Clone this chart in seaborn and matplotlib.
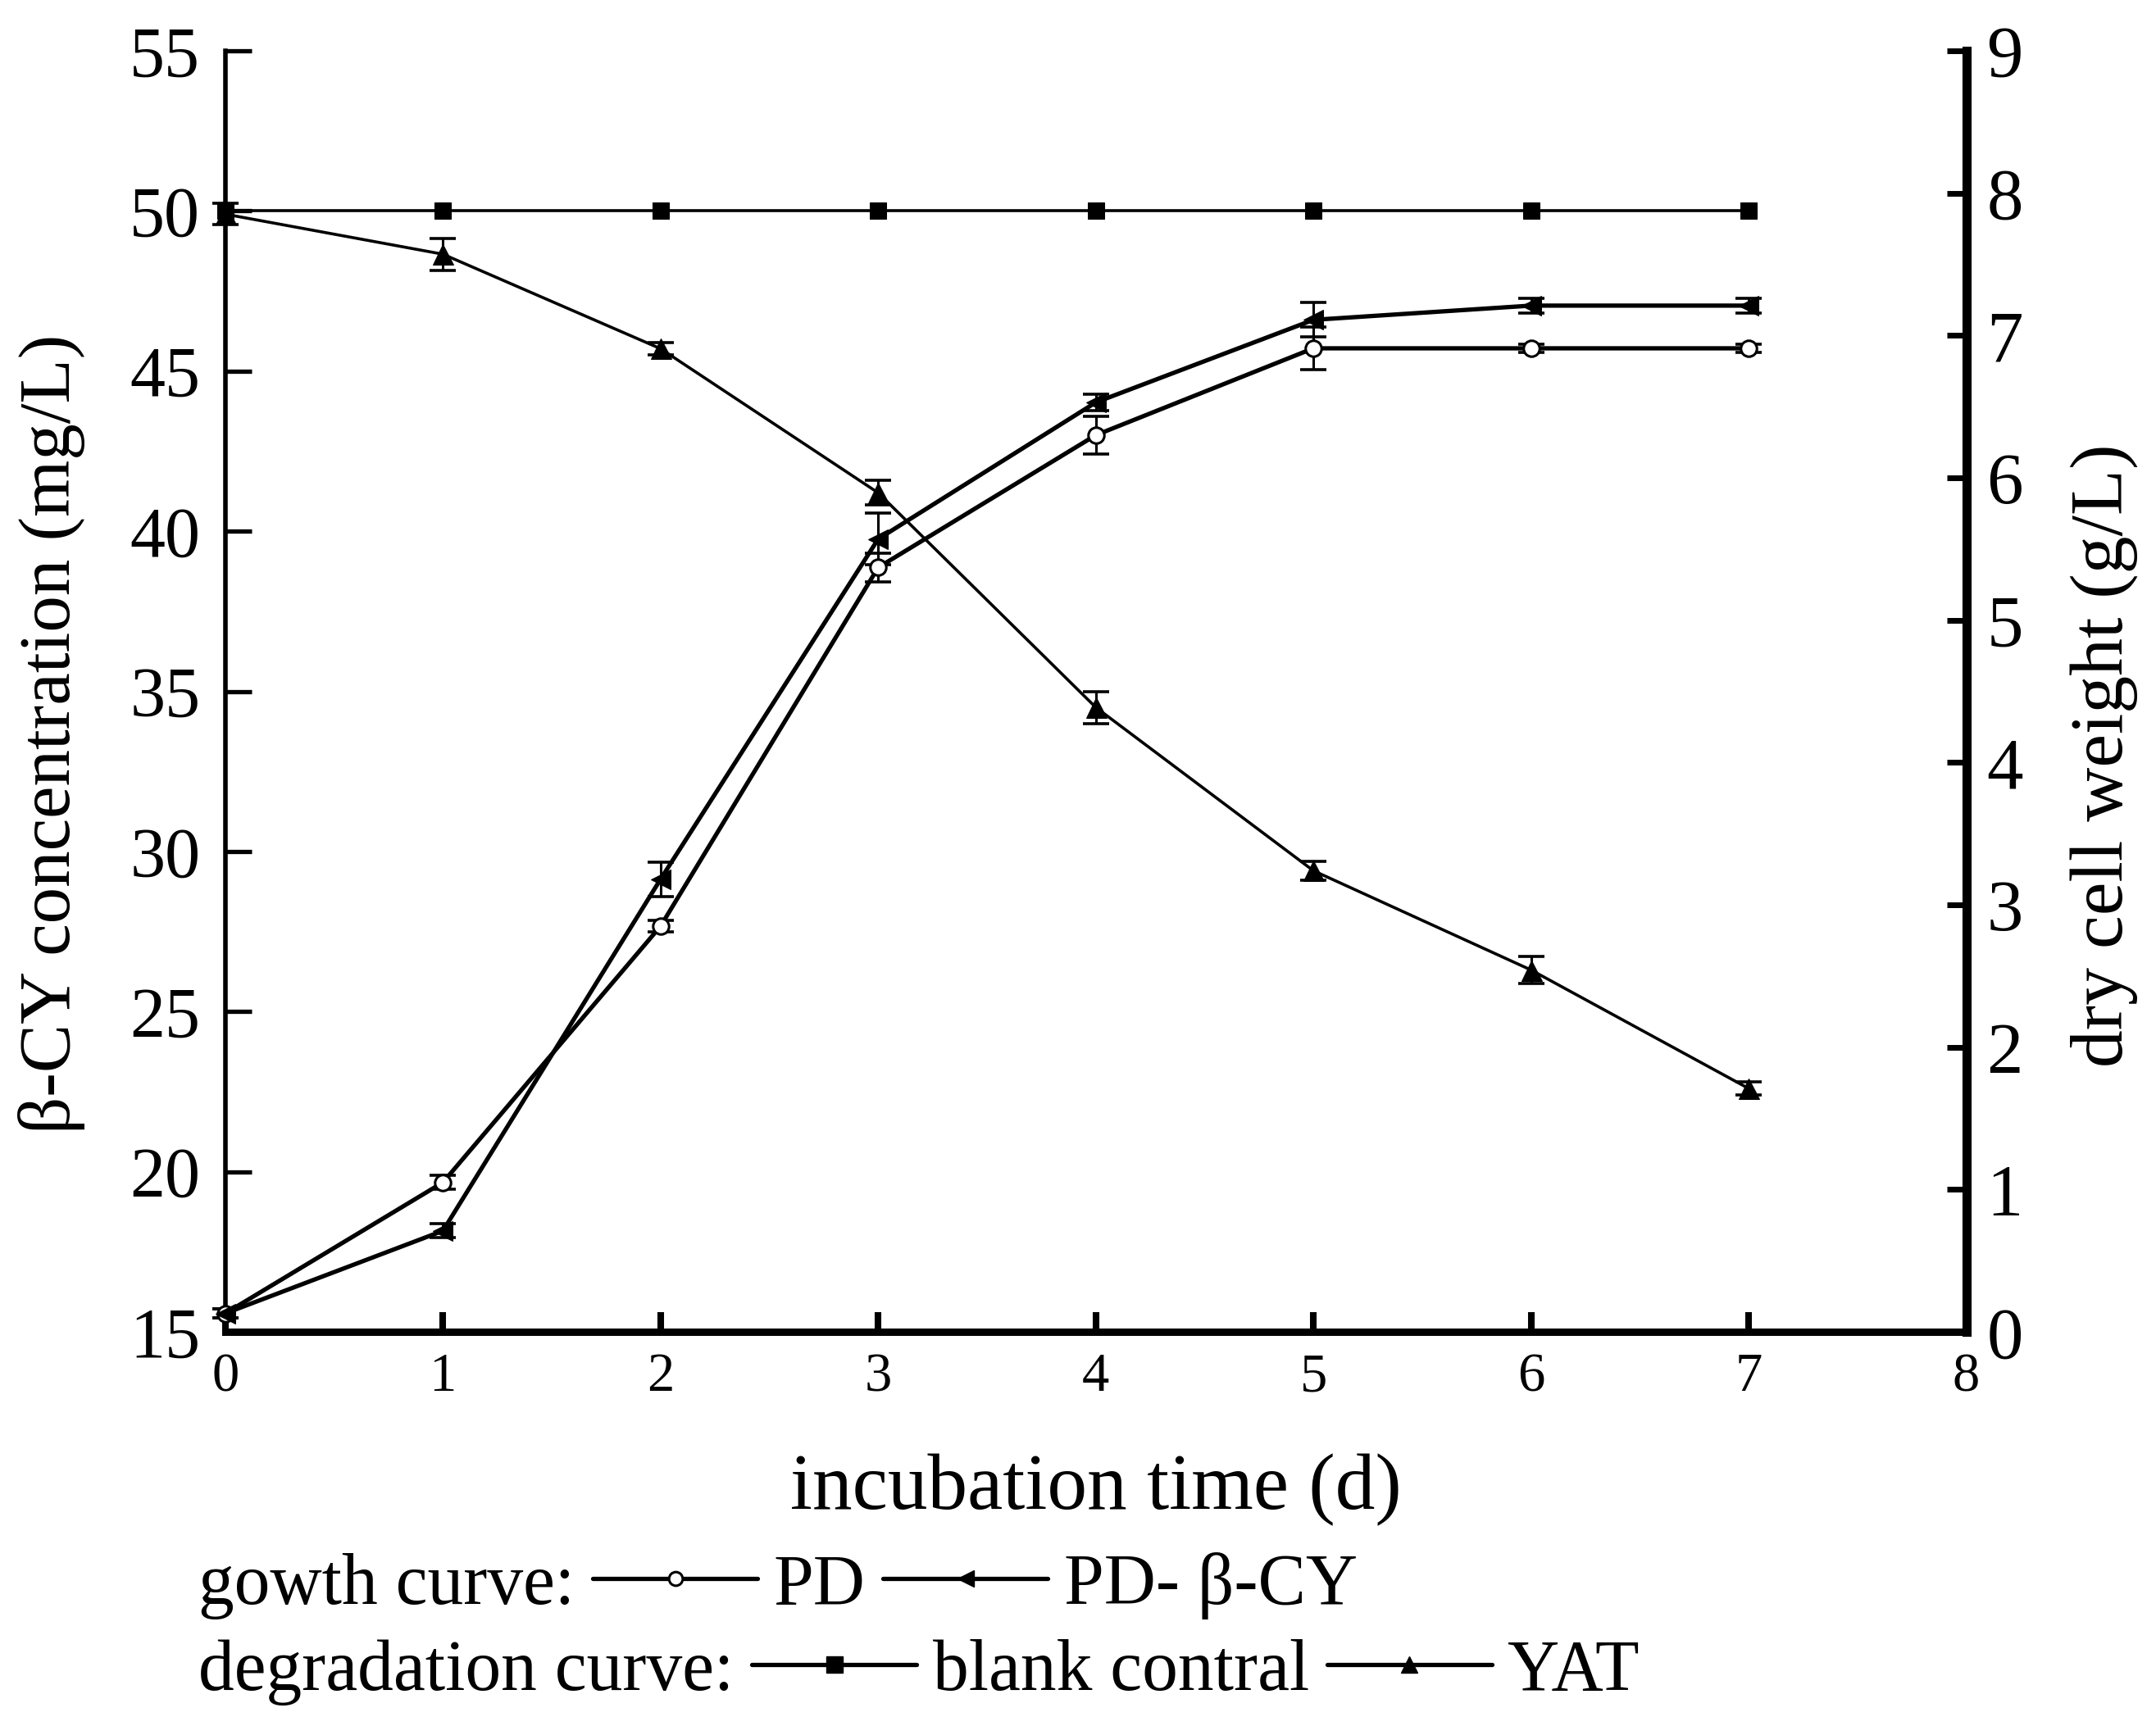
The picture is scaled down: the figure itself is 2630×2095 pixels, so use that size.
import matplotlib
matplotlib.use("Agg")
import matplotlib.pyplot as plt
from matplotlib.lines import Line2D
import seaborn as sns

# incubation days
days = [0, 1, 2, 3, 4, 5, 6, 7]

# degradation curves, beta-CY concentration (mg/L), left axis
blank = [50.0, 50.0, 50.0, 50.0, 50.0, 50.0, 50.0, 50.0]
yat = [49.9, 48.65, 45.7, 41.2, 34.5, 29.4, 26.3, 22.6]
yat_err = [0.33, 0.5, 0.2, 0.38, 0.5, 0.3, 0.42, 0.2]

# growth curves, dry cell weight (g/L), right axis
pd_dcw = [0.13, 1.05, 2.85, 5.37, 6.30, 6.91, 6.91, 6.91]
pd_err = [0.03, 0.05, 0.04, 0.10, 0.13, 0.15, 0.03, 0.03]
pdcy_dcw = [0.13, 0.71, 3.18, 5.57, 6.53, 7.11, 7.21, 7.21]
pdcy_err = [0.03, 0.05, 0.12, 0.18, 0.06, 0.12, 0.05, 0.05]

left_ticks = [15, 20, 25, 30, 35, 40, 45, 50, 55]
right_ticks = [0, 1, 2, 3, 4, 5, 6, 7, 8, 9]
x_ticks = [0, 1, 2, 3, 4, 5, 6, 7, 8]

sns.set_style("ticks")
plt.rcParams['font.family'] = ['Liberation Serif', 'DejaVu Serif']
plt.rcParams['text.color'] = 'black'
plt.rcParams['axes.labelcolor'] = 'black'
plt.rcParams['xtick.color'] = 'black'
plt.rcParams['ytick.color'] = 'black'

fig, ax = plt.subplots(figsize=(26.3, 20.95), dpi=100)
fig.subplots_adjust(left=0.1045, right=0.912, bottom=0.2243, top=0.9704)
ax2 = ax.twinx()

# degradation curves
sns.lineplot(x=days, y=blank, ax=ax, color='black', lw=2.6, marker='s',
             markersize=14, markeredgecolor='black', clip_on=False, zorder=3)
sns.lineplot(x=days, y=yat, ax=ax, color='black', lw=2.6, marker='^',
             markersize=18, markeredgecolor='black', clip_on=False, zorder=3)
ax.errorbar(days, yat, yerr=yat_err, fmt='none', ecolor='black',
            elinewidth=2.2, capsize=11.5, capthick=2.6, clip_on=False)

# growth curves
sns.lineplot(x=days, y=pd_dcw, ax=ax2, color='black', lw=3.8, marker='o',
             markersize=14, markerfacecolor='white', markeredgecolor='black',
             markeredgewidth=2.2, clip_on=False, zorder=3)
ax2.errorbar(days, pd_dcw, yerr=pd_err, fmt='none', ecolor='black',
             elinewidth=2.2, capsize=11.5, capthick=2.6, clip_on=False)
sns.lineplot(x=days, y=pdcy_dcw, ax=ax2, color='black', lw=3.8, marker='<',
             markersize=17, markeredgecolor='black', clip_on=False, zorder=3)
ax2.errorbar(days, pdcy_dcw, yerr=pdcy_err, fmt='none', ecolor='black',
             elinewidth=2.2, capsize=11.5, capthick=2.6, clip_on=False)

# axes limits and ticks
ax.set_xlim(0, 8)
ax.set_ylim(15, 55)
ax2.set_ylim(0, 9)
ax.set_xticks(x_ticks)
ax.set_yticks(left_ticks)
ax2.set_yticks(right_ticks)

for s in ['top', 'right']:
    ax.spines[s].set_visible(False)
for s in ['top', 'left', 'bottom']:
    ax2.spines[s].set_visible(False)
ax.spines['left'].set_linewidth(4)
ax.spines['bottom'].set_linewidth(6.5)
ax2.spines['right'].set_linewidth(8)
for sp in list(ax.spines.values()) + list(ax2.spines.values()):
    sp.set_color('black')

ax.tick_params(axis='y', direction='in', length=23, width=3.8,
               labelsize=62, pad=22, colors='black')
ax.tick_params(axis='x', direction='in', length=17, width=5.8,
               labelsize=48, pad=18, colors='black')
ax2.tick_params(axis='y', direction='in', length=17, width=5,
                labelsize=64, pad=18, colors='black')

# axis labels
ax.set_xlabel('incubation time (d)', fontsize=70, color='black')
ax.xaxis.set_label_coords(0.5, -0.095)
ax.set_ylabel('β-CY concentration (mg/L)', fontsize=64, color='black')
ax.yaxis.set_label_coords(-0.0997, 0.467)
ax.yaxis.label.set_verticalalignment('center')
ax2.set_ylabel('dry cell weight (g/L)', fontsize=66, rotation=90, color='black')
ax2.yaxis.set_label_coords(1.079, 0.45)
ax2.yaxis.label.set_verticalalignment('center')

# legend rows below the axes
h_pd = Line2D([], [], color='black', lw=3.8, marker='o', markersize=12,
              markerfacecolor='white', markeredgewidth=2.2)
h_pdcy = Line2D([], [], color='black', lw=3.8, marker='<', markersize=14)
h_blank = Line2D([], [], color='black', lw=3.8, marker='s', markersize=14)
h_yat = Line2D([], [], color='black', lw=3.8, marker='^', markersize=15)
h_none = Line2D([], [], linestyle='none')

leg_kw = dict(ncol=3, loc='center left', frameon=False, markerfirst=False,
              handlelength=2.3, handletextpad=0.25, columnspacing=0.22,
              fontsize=63, borderpad=0, borderaxespad=0, labelcolor='black')
leg1 = fig.legend([h_pd, h_pdcy, h_none], ['gowth curve:', 'PD', 'PD- β-CY'],
                  bbox_to_anchor=(0.092, 0.0765), **leg_kw)
leg2 = fig.legend([h_blank, h_yat, h_none],
                  ['degradation curve:', 'blank contral', 'YAT'],
                  bbox_to_anchor=(0.092, 0.026), **leg_kw)

fig.savefig('out.png', dpi=100)
